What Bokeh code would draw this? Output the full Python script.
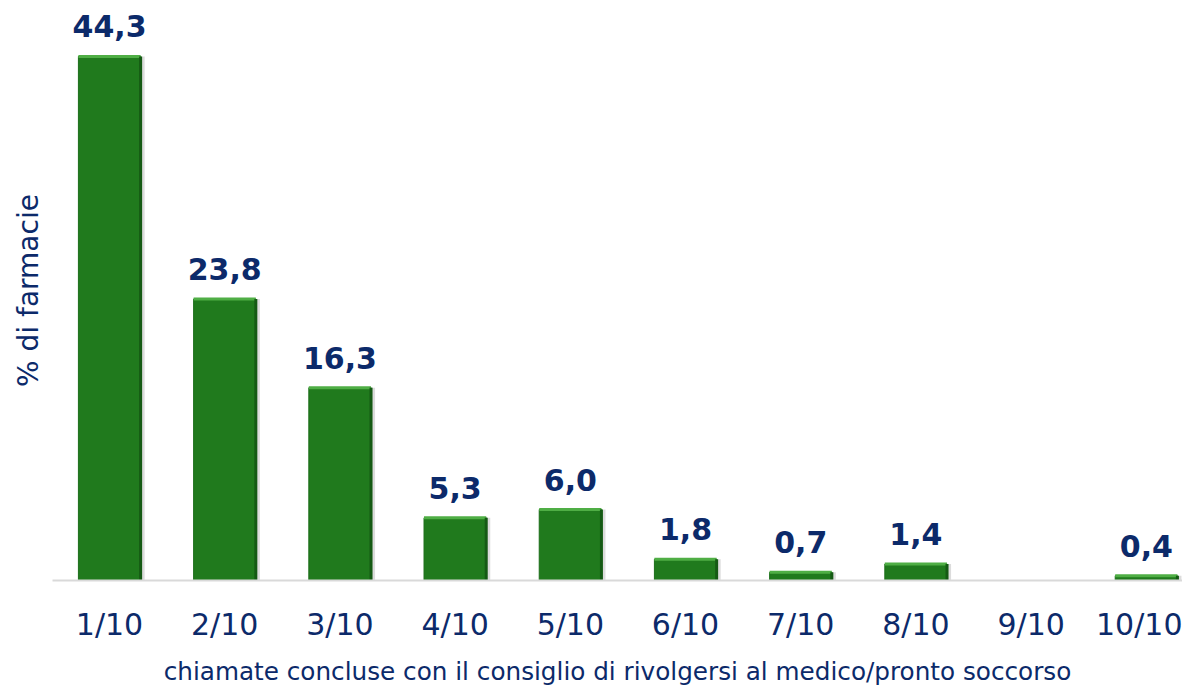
import math
from bokeh.plotting import figure
from bokeh.models import ColumnDataSource, FixedTicker, Range1d
from bokeh.core.properties import value
from bokeh.embed import file_html
from bokeh.resources import INLINE

categories = ["1/10", "2/10", "3/10", "4/10", "5/10", "6/10", "7/10", "8/10", "9/10", "10/10"]
values = [44.3, 23.8, 16.3, 5.3, 6.0, 1.8, 0.7, 1.4, None, 0.4]
x_title = "chiamate concluse con il consiglio di rivolgersi al medico/pronto soccorso"
y_title = "% di farmacie"

NAVY = "#0c2a6a"
GREEN = "#207a1d"
BAR_W = 0.54

xs = [i + 1 for i, v in enumerate(values) if v is not None]
ys = [v for v in values if v is not None]
labels = [f"{v:.1f}".replace(".", ",") for v in ys]
src = ColumnDataSource(dict(
    x=xs, top=ys, label=labels,
    sx=[x + 0.035 for x in xs],
    xl=[x - BAR_W / 2 for x in xs],
    xr=[x + BAR_W / 2 for x in xs],
    zero=[0] * len(xs),
))

p = figure(width=1182, height=688, output_backend="svg", toolbar_location=None,
           x_range=Range1d(0.505, 10.314), y_range=Range1d(0, 49.03),
           min_border_left=52, min_border_right=0, min_border_top=0, min_border_bottom=108)
p.outline_line_color = None
p.grid.visible = False
p.background_fill_color = "white"

# shadow
p.vbar(x="sx", top="top", bottom=0, width=BAR_W, source=src,
       fill_color="#9a9a9a", fill_alpha=0.35, line_color=None)
# bars
p.vbar(x="x", top="top", bottom=0, width=BAR_W, source=src,
       fill_color=GREEN, line_color="#1c6e1a", line_width=1)
# bevel highlights
p.segment(x0="xl", x1="xr", y0="top", y1="top", source=src,
          line_color="#4fae45", line_width=3)
p.segment(x0="xr", x1="xr", y0="zero", y1="top", source=src,
          line_color="#155a14", line_width=3)

p.text(x="x", y="top", text="label", source=src,
       text_font=value("DejaVu Sans"), text_font_style="bold",
       text_font_size="30px", text_color=NAVY,
       text_align="center", text_baseline="alphabetic", y_offset=-30)

p.xaxis.ticker = FixedTicker(ticks=list(range(1, len(categories) + 1)))
p.xaxis.major_label_overrides = {i + 1: c for i, c in enumerate(categories)}
p.xaxis.major_label_text_font = "DejaVu Sans"
p.xaxis.major_label_text_font_size = "30px"
p.xaxis.major_label_text_color = NAVY
p.xaxis.major_label_standoff = 20
p.xaxis.major_tick_line_color = None
p.xaxis.minor_tick_line_color = None
p.xaxis.axis_line_color = "#d9d9d9"
p.xaxis.axis_line_width = 2
p.xaxis.axis_label = x_title
p.xaxis.axis_label_text_font = "DejaVu Sans"
p.xaxis.axis_label_text_font_style = "normal"
p.xaxis.axis_label_text_font_size = "24.7px"
p.xaxis.axis_label_text_color = NAVY
p.xaxis.axis_label_standoff = 12

p.yaxis.ticker = FixedTicker(ticks=[])
p.yaxis.major_label_text_font_size = "0px"
p.yaxis.major_tick_line_color = None
p.yaxis.minor_tick_line_color = None
p.yaxis.axis_line_color = None
p.yaxis.axis_label = y_title
p.yaxis.axis_label_text_font = "DejaVu Sans"
p.yaxis.axis_label_text_font_style = "normal"
p.yaxis.axis_label_text_font_size = "28px"
p.yaxis.axis_label_text_color = NAVY
p.yaxis.axis_label_standoff = 8

open("out.html", "w").write(file_html(p, INLINE))
